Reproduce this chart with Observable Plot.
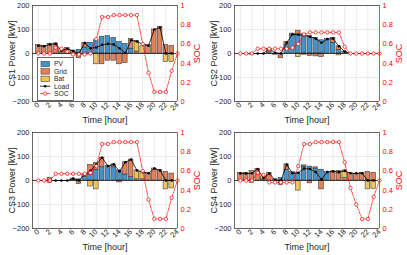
<!DOCTYPE html>
<html><head><meta charset="utf-8">
<script src="https://cdn.jsdelivr.net/npm/d3@7"></script>
<script src="https://cdn.jsdelivr.net/npm/@observablehq/plot@0.6"></script>
<style>
body{margin:0;background:#fff;font-family:"Liberation Sans",Arial,sans-serif;}
#wrap{position:relative;width:407px;height:255px;overflow:hidden;background:#fff}
.panel{position:absolute}
.panel svg{overflow:visible}
</style></head><body><div id="wrap"></div>
<script>
const hours = [0,1,2,3,4,5,6,7,8,9,10,11,12,13,14,15,16,17,18,19,20,21,22,23];
const socHours = [0,1,2,3,4,5,6,7,8,9,10,11,12,13,14,15,16,17,18,19,20,21,22,23,24];
const xTicks = [0,2,4,6,8,10,12,14,16,18,20,22,24];
const yTicks = [-200,-100,0,100,200];
const socTicks = [0,0.2,0.4,0.6,0.8,1];
const seriesNames = ["PV","Grid","Bat"];
const seriesColors = ["#4394CE","#E3825A","#F1C35C"];

const cs1PV   = [0,0,0,0,0,0,0,15,25,45,55,70,72,65,48,40,20,0,0,0,0,0,0,0];
const cs1Grid = [35,32,40,42,5,22,12,-20,20,0,0,-45,-30,-30,-45,-40,40,8,0,35,100,110,35,32];
const cs1Bat  = [0,0,0,0,12,0,0,0,0,0,-45,0,0,0,0,0,0,45,30,0,0,0,-35,-35];
const cs1Load = [32,30,38,40,12,20,10,0,44,22,25,36,40,38,22,2,55,50,38,32,100,108,0,0];
const cs1SOC  = [0.5,0.5,0.5,0.56,0.55,0.52,0.49,0.49,0.49,0.5,0.65,0.88,0.88,0.9,0.9,0.9,0.9,0.9,0.6,0.3,0.1,0.1,0.1,0.32,0.5];

const cs2PV   = [0,0,0,0,0,5,0,0,35,75,80,80,72,65,55,60,45,15,0,0,0,0,0,0];
const cs2Grid = [0,0,-5,0,0,15,-5,-20,12,8,15,-5,-10,-12,-15,0,20,15,8,0,0,0,0,0];
const cs2Bat  = [0,0,0,0,0,0,0,0,0,0,-15,0,0,0,0,0,0,-8,0,0,0,0,0,0];
const cs2Load = [0,0,0,0,0,20,3,0,45,80,78,76,70,62,45,60,62,30,8,0,0,0,0,0];
const cs2SOC  = [0.5,0.5,0.5,0.55,0.55,0.55,0.55,0.55,0.55,0.56,0.6,0.7,0.72,0.72,0.72,0.72,0.72,0.72,0.57,0.5,0.5,0.5,0.5,0.5,0.5];

const cs3PV   = [0,0,0,0,0,0,0,5,15,25,45,55,60,55,42,25,14,0,0,0,0,0,0,0];
const cs3Grid = [0,0,10,0,0,0,8,-15,10,40,28,40,0,12,-8,51,73,5,5,30,50,42,36,29];
const cs3Bat  = [0,0,-10,0,0,0,0,0,0,-25,-37,0,0,0,0,0,0,37,30,0,0,0,-37,-33];
const cs3Load = [0,0,0,0,0,0,8,0,25,40,68,95,60,67,38,76,87,42,35,30,50,42,0,0];
const cs3SOC  = [0.5,0.5,0.5,0.57,0.57,0.57,0.57,0.57,0.57,0.58,0.65,0.88,0.88,0.9,0.9,0.9,0.9,0.9,0.6,0.3,0.1,0.1,0.1,0.32,0.5];

const cs4PV   = [0,0,0,0,0,0,0,10,45,35,30,58,58,50,45,35,0,0,0,0,0,0,0,0];
const cs4Grid = [32,32,40,48,5,32,5,-19,22,0,0,5,-12,5,-37,0,38,30,10,30,28,32,36,32];
const cs4Bat  = [0,0,-10,0,12,0,0,0,0,0,-42,0,0,0,0,0,0,10,32,0,0,0,-37,-35];
const cs4Load = [29,29,30,48,10,29,2,0,66,30,32,50,48,35,5,35,38,35,40,30,30,30,0,0];
const cs4SOC  = [0.5,0.5,0.5,0.58,0.56,0.48,0.48,0.48,0.48,0.48,0.65,0.88,0.88,0.9,0.9,0.9,0.9,0.9,0.69,0.42,0.25,0.1,0.1,0.33,0.5];

const panels = [
  {name:"CS1", pv:cs1PV, grid:cs1Grid, bat:cs1Bat, load:cs1Load, soc:cs1SOC, left:0, top:0},
  {name:"CS2", pv:cs2PV, grid:cs2Grid, bat:cs2Bat, load:cs2Load, soc:cs2SOC, left:202, top:0},
  {name:"CS3", pv:cs3PV, grid:cs3Grid, bat:cs3Bat, load:cs3Load, soc:cs3SOC, left:0, top:127},
  {name:"CS4", pv:cs4PV, grid:cs4Grid, bat:cs4Bat, load:cs4Load, soc:cs4SOC, left:202, top:127}
];

const toY = s => s * 400 - 200;
const FONT = "Liberation Sans, Arial, Helvetica, sans-serif";

function makePanel(p) {
  const rows = [];
  hours.forEach((h, i) => {
    [p.pv[i], p.grid[i], p.bat[i]].forEach((v, k) => {
      if (v !== 0) rows.push({h, type: seriesNames[k], v});
    });
  });
  const loadRows = hours.map((h, i) => ({h, v: p.load[i]}));
  const socRows = socHours.map((h, i) => ({h, s: p.soc[i]}));
  return Plot.plot({
    width: 203, height: 127,
    marginLeft: 32, marginRight: 26, marginTop: 5, marginBottom: 26,
    style: {fontFamily: FONT, fontSize: "7.5px", background: "transparent", color: "#262626"},
    x: {domain: [-1, 24]},
    y: {domain: [-200, 200]},
    color: {domain: seriesNames, range: seriesColors},
    marks: [
      Plot.ruleX(xTicks, {stroke: "#dcdcdc", strokeWidth: 0.6}),
      Plot.ruleY(yTicks, {stroke: "#dcdcdc", strokeWidth: 0.6}),
      Plot.rectY(rows, Plot.stackY({x1: d => d.h - 0.4, x2: d => d.h + 0.4, y: "v", z: "type", fill: "type", stroke: "#333", strokeWidth: 0.55})),
      Plot.ruleY([0], {stroke: "#000", strokeWidth: 0.7}),
      Plot.line(loadRows, {x: "h", y: "v", stroke: "#000", strokeWidth: 0.8}),
      Plot.dot(loadRows, {x: "h", y: "v", r: 1.3, fill: "#000"}),
      Plot.line(socRows, {x: "h", y: d => toY(d.s), stroke: "#ff0000", strokeWidth: 0.7, strokeDasharray: "3.5,1.2,1,1.2"}),
      Plot.dot(socRows, {x: "h", y: d => toY(d.s), r: 1.7, stroke: "#ff0000", strokeWidth: 0.7, fill: "#fff"}),
      Plot.ruleY([-200, 200], {stroke: "#262626", strokeWidth: 0.7}),
      Plot.ruleX([-1], {stroke: "#262626", strokeWidth: 0.7}),
      Plot.ruleX([24], {stroke: "#ff0000", strokeWidth: 0.7}),
      Plot.axisY(yTicks, {anchor: "left", tickSize: 0, tickPadding: 3, label: null, fontSize: 7.5}),
      Plot.axisY(socTicks.map(toY), {anchor: "right", tickSize: 0, tickPadding: 3, label: null, color: "#ff0000", fontSize: 7.5,
        tickFormat: d => String(Math.round((d + 200) / 400 * 10) / 10)}),
      Plot.axisX(xTicks, {anchor: "bottom", tickSize: 0, tickPadding: 2, tickRotate: -45, label: null, fontSize: 7.5}),
      Plot.text([p.name + " Power [kW]"], {frameAnchor: "left", textAnchor: "middle", rotate: -90, dx: -20, fontSize: 9, fill: "#262626"}),
      Plot.text(["SOC"], {frameAnchor: "right", textAnchor: "middle", rotate: -90, dx: 20, fontSize: 9, fill: "#ff0000"}),
      Plot.text(["Time [hour]"], {frameAnchor: "bottom", textAnchor: "middle", dy: 21.5, fontSize: 9, fill: "#262626"})
    ]
  });
}

const wrap = document.getElementById("wrap");
panels.forEach(p => {
  const div = document.createElement("div");
  div.className = "panel";
  div.style.left = p.left + "px";
  div.style.top = p.top + "px";
  div.appendChild(makePanel(p));
  wrap.appendChild(div);
});

// legend for the first panel
const lg = d3.select(wrap).append("svg")
  .attr("width", 40).attr("height", 45)
  .style("position", "absolute").style("left", "37px").style("top", "57px")
  .style("font-family", FONT).style("font-size", "6.8px");
lg.append("rect").attr("x", 0.5).attr("y", 0.5).attr("width", 36).attr("height", 43)
  .attr("fill", "#fff").attr("stroke", "#262626").attr("stroke-width", 0.7);
const items = ["PV","Grid","Bat","Load","SOC"];
items.forEach((name, i) => {
  const cy = 7 + i * 7.4;
  if (i < 3) {
    lg.append("rect").attr("x", 4).attr("y", cy - 2.7).attr("width", 8.5).attr("height", 5.4)
      .attr("fill", seriesColors[i]).attr("stroke", "#333").attr("stroke-width", 0.55);
  } else if (i === 3) {
    lg.append("line").attr("x1", 3).attr("x2", 13.5).attr("y1", cy).attr("y2", cy).attr("stroke", "#000").attr("stroke-width", 0.8);
    lg.append("circle").attr("cx", 8.25).attr("cy", cy).attr("r", 1.3).attr("fill", "#000");
  } else {
    lg.append("line").attr("x1", 3).attr("x2", 13.5).attr("y1", cy).attr("y2", cy).attr("stroke", "#f00").attr("stroke-width", 0.7).attr("stroke-dasharray", "3.5,1.2,1,1.2");
    lg.append("circle").attr("cx", 8.25).attr("cy", cy).attr("r", 1.7).attr("fill", "#fff").attr("stroke", "#f00").attr("stroke-width", 0.7);
  }
  lg.append("text").attr("x", 17).attr("y", cy).attr("dy", "0.35em").attr("fill", "#262626").text(name);
});
</script>
</body></html>
